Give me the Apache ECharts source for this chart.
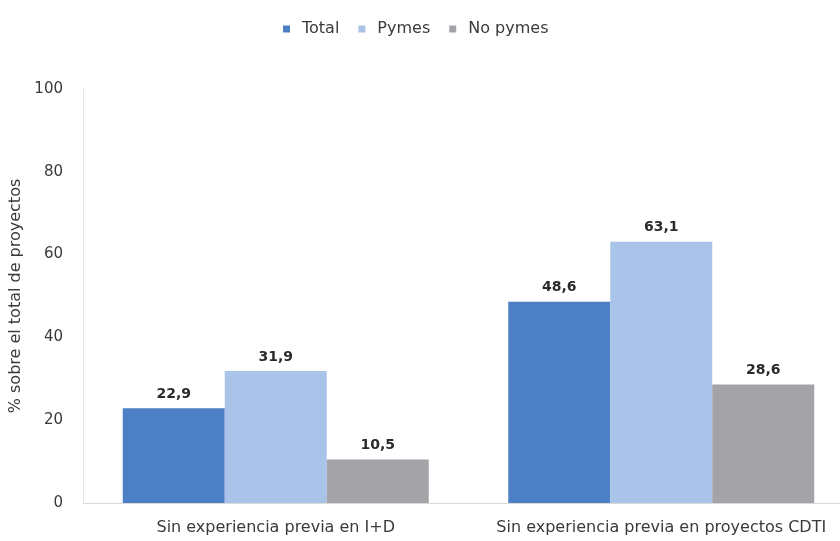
<!DOCTYPE html>
<html>
<head>
<meta charset="utf-8">
<script src="https://cdn.jsdelivr.net/npm/echarts@6/dist/echarts.min.js"></script>
<style>
  html, body { margin: 0; padding: 0; background: #ffffff; }
  #chart { width: 840px; height: 541px; }
</style>
</head>
<body>
<div id="chart"></div>
<script>
// Categories and series values
const categories = ['Sin experiencia previa en I+D', 'Sin experiencia previa en proyectos CDTI'];
const total = [22.9, 48.6];
const pymes = [31.9, 63.1];
const noPymes = [10.5, 28.6];
const seriesNames = ['Total', 'Pymes', 'No pymes'];
const yTicks = [0, 20, 40, 60, 80, 100];

const fontFamily = 'DejaVu Sans, Verdana, sans-serif';
const textColor = '#3a3a3a';
const fmt = v => String(v).replace('.', ',');

const chart = echarts.init(document.getElementById('chart'));

function barSeries(name, data, color) {
  return {
    name: name,
    type: 'bar',
    data: data,
    barWidth: 102,
    barGap: '0%',
    itemStyle: { color: color },
    label: {
      show: true,
      position: 'top',
      distance: 7,
      color: '#2b2b2b',
      fontSize: 14,
      fontWeight: 'bold',
      fontFamily: fontFamily,
      formatter: p => fmt(p.value)
    }
  };
}

chart.setOption({
  animation: false,
  backgroundColor: '#ffffff',
  legend: {
    data: seriesNames,
    top: 16,
    left: 278,
    itemWidth: 7,
    itemHeight: 7,
    itemGap: 19,
    icon: 'rect',
    textStyle: { color: textColor, fontSize: 16, fontFamily: fontFamily, padding: [0, 0, 0, 7] }
  },
  grid: { left: 83, top: 89, width: 771, bottom: 38, outerBoundsMode: 'none' },
  xAxis: {
    type: 'category',
    data: categories,
    axisLine: { lineStyle: { color: '#d9d9d9' } },
    axisTick: { show: false },
    axisLabel: { interval: 0, hideOverlap: false, color: textColor, fontSize: 16, fontFamily: fontFamily, margin: 17 }
  },
  yAxis: {
    type: 'value',
    min: yTicks[0],
    max: yTicks[yTicks.length - 1],
    interval: 20,
    name: '% sobre el total de proyectos',
    nameLocation: 'middle',
    nameGap: 54,
    nameRotate: 90,
    nameTextStyle: { color: textColor, fontSize: 16, fontFamily: fontFamily },
    axisLine: { show: true, lineStyle: { color: '#e6e6e6' } },
    axisTick: { show: false },
    splitLine: { show: false },
    axisLabel: { color: textColor, fontSize: 15, fontFamily: fontFamily, margin: 20 }
  },
  series: [
    barSeries(seriesNames[0], total, '#4d7fc6'),
    barSeries(seriesNames[1], pymes, '#a9c4e8'),
    barSeries(seriesNames[2], noPymes, '#a4a4a8')
  ]
});
</script>
</body>
</html>
